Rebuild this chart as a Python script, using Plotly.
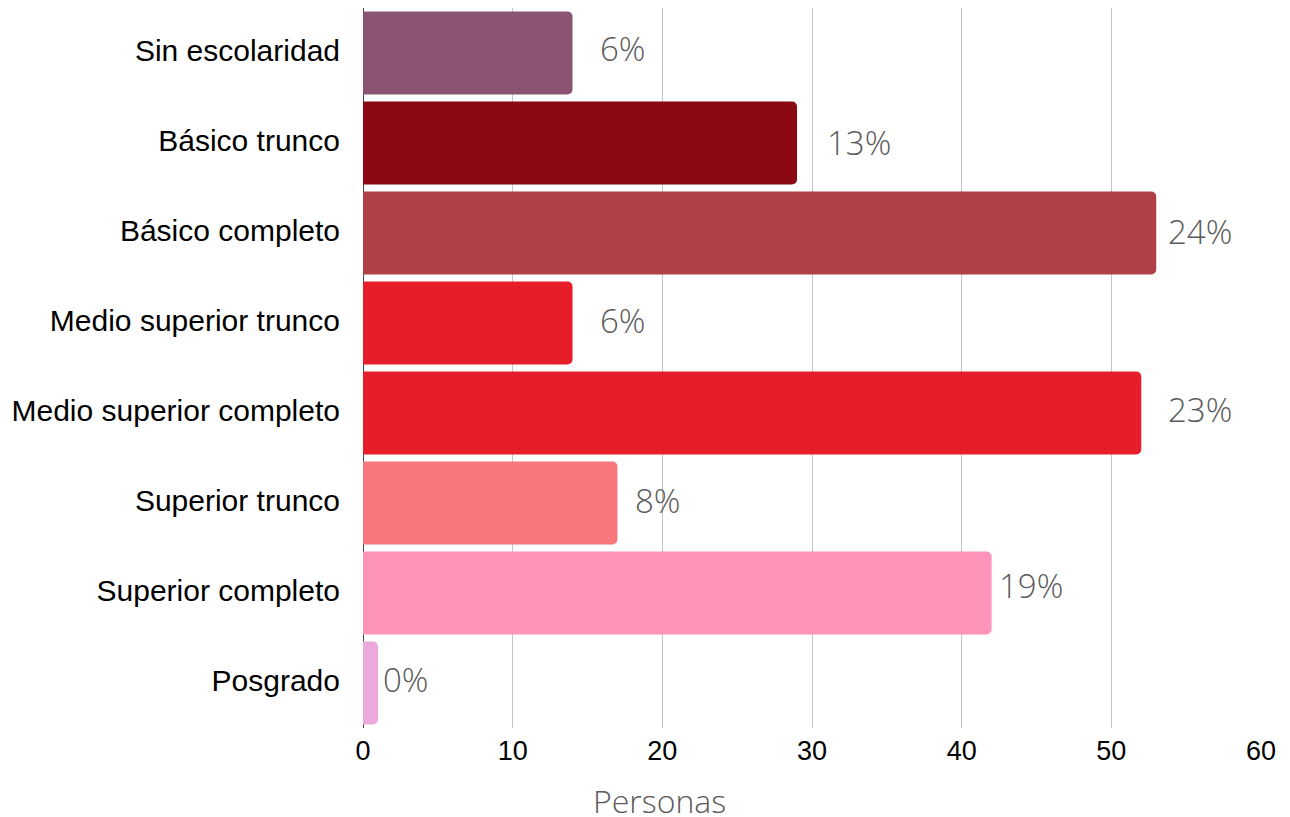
import plotly.graph_objects as go

categories = ["Sin escolaridad", "Básico trunco", "Básico completo", "Medio superior trunco",
              "Medio superior completo", "Superior trunco", "Superior completo", "Posgrado"]
personas = [14, 29, 53, 14, 52, 17, 42, 1]
porcentajes = ["6%", "13%", "24%", "6%", "23%", "8%", "19%", "0%"]
colores = ["#8B5472", "#8B0912", "#B04048", "#E61E2A", "#E61E2A", "#F7777C", "#FF94BB", "#EBAADB"]
label_xshift = [25, 28, 10, 25, 25, 16, 5, 3]
label_yshift = [5, 1, 2, 3, 4, 3, 8, 4]
x_ticks = [0, 10, 20, 30, 40, 50, 60]

fig = go.Figure()
fig.add_trace(go.Bar(
    x=personas, y=categories, orientation="h",
    marker=dict(color=colores, cornerradius=5, line=dict(width=0)),
    hoverinfo="x+y",
))

for cat, val, txt, sx, sy in zip(categories, personas, porcentajes, label_xshift, label_yshift):
    fig.add_annotation(x=val, y=cat, text=txt, xanchor="left", yanchor="middle",
                       xshift=sx, yshift=sy, showarrow=False,
                       font=dict(family="Open Sans", size=33, color="#5a5a5a", weight=300))

fig.add_annotation(x=0.33, y=-0.1, xref="paper", yref="paper", text="Personas",
                   xanchor="center", yanchor="middle", showarrow=False,
                   font=dict(family="Open Sans", size=32, color="#5a5a5a", weight=300))

fig.update_layout(
    width=1282, height=809,
    margin=dict(l=355, r=29, t=0, b=89),
    paper_bgcolor="white", plot_bgcolor="white",
    bargap=0.08,
    showlegend=False,
    xaxis=dict(range=[0, 60], tickvals=x_ticks, showgrid=True, gridcolor="#c4c4c4", gridwidth=1,
               zeroline=True, zerolinecolor="#444444", zerolinewidth=1,
               tickfont=dict(family="Liberation Sans", size=27, color="#000000"),
               ticks="", showline=False, ticklabelstandoff=4),
    yaxis=dict(autorange="reversed", showgrid=False, ticks="", ticklabelstandoff=22,
               ticklabelshift=3,
               tickfont=dict(family="Liberation Sans", size=30, color="#000000")),
)

fig.write_html("out.html")
